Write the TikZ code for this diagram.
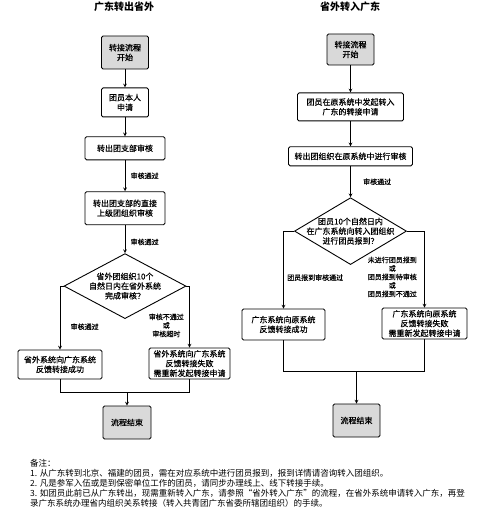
\documentclass[tikz,border=0pt]{standalone}
\usepackage{fontspec}
\setmainfont{Noto Sans CJK SC}
\newfontfamily\boxfont{Noto Sans CJK SC}[RawFeature={embolden=0.6}]
\usetikzlibrary{shapes.geometric,arrows,positioning,calc}

\begin{document}
\begin{tikzpicture}[
    x=1pt, y=-1pt,
    box/.style={rectangle, draw, rounded corners=1.5pt, line width=0.9pt, align=center, inner sep=1pt, font=\boxfont\fontsize{8}{9.7}\selectfont},
    termbox/.style={box, fill=gray!30, minimum width=47pt, minimum height=32pt},
    decision/.style={diamond, draw, line width=0.9pt, align=center, inner sep=-12pt, font=\boxfont\fontsize{8}{9.7}\selectfont},
    lbl/.style={font=\boxfont\fontsize{7}{8.5}\selectfont, align=center},
    heading/.style={font=\fontsize{10}{12}\selectfont\bfseries},
    arrow/.style={->, >=stealth, line width=0.7pt},
    link/.style={line width=0.7pt}
]
\useasboundingbox (0,0) rectangle (480,513);

% Left: out of Guangdong
\node[heading] (title1) at (124,7) {广东转出省外};
\node[termbox, minimum height=33pt] (start1) at (125,52.5) {转接流程\\开始};
\node[box, minimum width=47pt, minimum height=29pt, below=18pt of start1] (apply1) {团员本人\\申请};
\node[box, minimum width=80pt, minimum height=23pt, below=19pt of apply1] (branch1) {转出团支部审核};
\node[box, minimum width=80pt, minimum height=33pt, below=31pt of branch1] (upper1) {转出团支部的直接\\上级团组织审核};
\node[decision, minimum width=122pt, minimum height=65pt, below=28pt of upper1] (check1) {省外团组织10个\\自然日内在省外系统\\完成审核？};
\node[box, minimum width=84pt, minimum height=29pt] (ok1) at (60,364.5) {省外系统向广东系统\\反馈转接成功};
\node[box, minimum width=81pt, minimum height=31pt] (fail1) at (189.5,363.5) {省外系统向广东系统\\反馈转接失败\\需重新发起转接申请};
\node[termbox, minimum width=48pt, minimum height=33pt] (end1) at (127,422.5) {流程结束};
\coordinate[above=13pt of end1] (join1);

\draw[arrow] (start1) -- (apply1);
\draw[arrow] (apply1) -- (branch1);
\draw[arrow] (branch1) -- node[lbl, right=2pt] {审核通过} (upper1);
\draw[arrow] (upper1) -- node[lbl, right=2pt, pos=0.6] {审核通过} (check1);
\draw[arrow] (check1) -| node[lbl, right=7pt, pos=0.82] {审核通过} (ok1);
\draw[arrow] (check1) -| node[lbl, left=2pt, pos=0.82] {审核不通过\\或\\审核超时} (fail1);
\draw[link] (ok1) |- (join1) -| (fail1);
\draw[arrow] (join1) -- (end1);

% Right: into Guangdong
\node[heading] (title2) at (350,7) {省外转入广东};
\node[termbox, minimum height=31pt] (start2) at (350.5,49.5) {转接流程\\开始};
\node[box, minimum width=106pt, minimum height=28pt, below=27pt of start2] (apply2) {团员在原系统中发起转入\\广东的转接申请};
\node[box, minimum width=124pt, minimum height=19pt, below=25pt of apply2] (review2) {转出团组织在原系统中进行审核};
\node[decision, minimum width=112pt, minimum height=63pt, below=31pt of review2] (check2) {团员10个自然日内\\在广东系统向转入团组织\\进行团员报到？};
\node[box, minimum width=83pt, minimum height=31pt] (ok2) at (283.5,324.5) {广东系统向原系统\\反馈转接成功};
\node[box, minimum width=85pt, minimum height=31pt] (fail2) at (424.5,323.5) {广东系统向原系统\\反馈转接失败\\需重新发起转接申请};
\node[termbox, minimum height=33pt] (end2) at (356.5,420.5) {流程结束};
\coordinate[above=32pt of end2] (join2);

\draw[arrow] (start2) -- (apply2);
\draw[arrow] (apply2) -- (review2);
\draw[arrow] (review2) -- node[lbl, right=9pt] {审核通过} (check2);
\draw[arrow] (check2) -| node[lbl, right=0pt, pos=0.8] {团员报到审核通过} (ok2);
\draw[arrow] (check2) -| node[lbl, left=4pt, pos=0.8] {未进行团员报到\\或\\团员报到待审核\\或\\团员报到不通过} (fail2);
\draw[link] (ok2) |- (join2) -| (fail2);
\draw[arrow] (join2) -- (end2);

% Notes
\node[anchor=north west, align=left, inner sep=0pt, font=\fontsize{8.5}{10}\selectfont] (notes) at (30,459.5) {备注：\\
1. 从广东转到北京、福建的团员，需在对应系统中进行团员报到，报到详情请咨询转入团组织。\\
2. 凡是参军入伍或是到保密单位工作的团员，请同步办理线上、线下转接手续。\\
3. 如团员此前已从广东转出，现需重新转入广东，请参照“省外转入广东”的流程，在省外系统申请转入广东，再登\\
录广东系统办理省内组织关系转接（转入共青团广东省委所辖团组织）的手续。};

\end{tikzpicture}
\end{document}
